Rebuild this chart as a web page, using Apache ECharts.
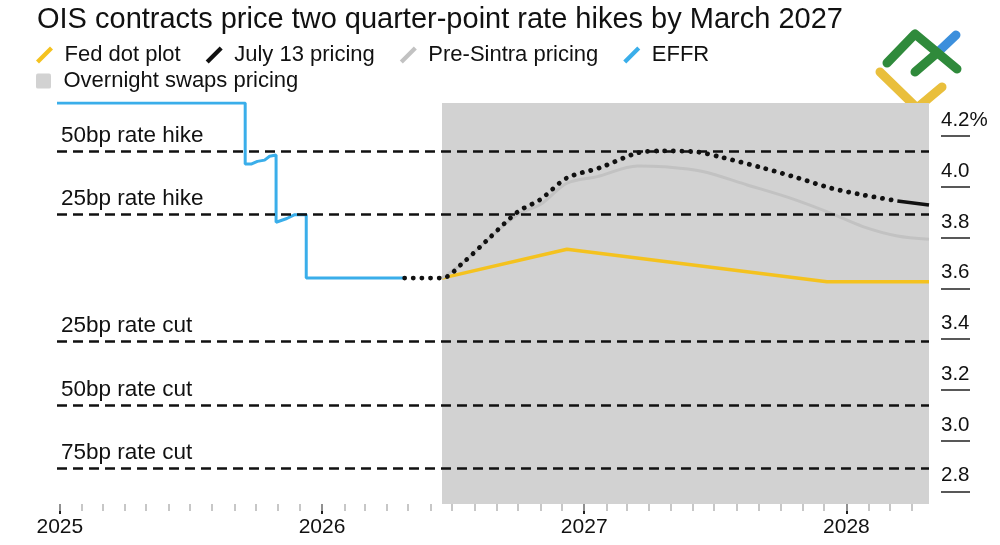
<!DOCTYPE html>
<html>
<head>
<meta charset="utf-8">
<script src="https://cdn.jsdelivr.net/npm/echarts@6/dist/echarts.min.js"></script>
<style>
html, body { margin: 0; padding: 0; background: #fff; }
#main { width: 1000px; height: 545px; }
</style>
</head>
<body>
<div id="main"></div>
<script>
// chart data

var effrDates = ['2024-12-28', '2025-09-16', '2025-09-16', '2025-09-25', '2025-10-03', '2025-10-13', '2025-10-20',
    '2025-10-29', '2025-10-29', '2025-11-03', '2025-11-13', '2025-11-24', '2025-12-10', '2025-12-10', '2026-04-26'];
var effrValues = [4.33, 4.33, 4.09, 4.09, 4.10, 4.105, 4.12, 4.125, 3.86, 3.865, 3.875, 3.89, 3.89, 3.64, 3.64];

var julyDates = ['2026-04-26', '2026-06-17', '2026-07-16', '2026-08-19', '2026-09-30', '2026-11-01', '2026-12-08',
    '2027-01-23', '2027-03-16', '2027-04-21', '2027-06-07', '2027-07-10', '2027-09-07', '2027-10-25', '2027-12-10',
    '2028-01-24', '2028-03-12'];
var julyValues = [3.64, 3.64, 3.70, 3.79, 3.90, 3.95, 4.035, 4.075, 4.133, 4.141, 4.137, 4.117, 4.074, 4.035, 3.995,
    3.968, 3.944];
var julySolidDates = ['2028-03-12', '2028-04-25'];
var julySolidValues = [3.944, 3.928];

var sintraDates = ['2026-06-17', '2026-07-16', '2026-08-19', '2026-09-30', '2026-11-01', '2026-12-08', '2027-01-19',
    '2027-03-16', '2027-04-21', '2027-06-15', '2027-08-16', '2027-10-15', '2027-12-10', '2028-01-24', '2028-03-12',
    '2028-04-25'];
var sintraValues = [3.64, 3.70, 3.79, 3.89, 3.93, 4.014, 4.04, 4.082, 4.079, 4.06, 4.007, 3.955, 3.896, 3.843, 3.806,
    3.793];

var dotDates = ['2026-06-17', '2026-12-08', '2027-12-05', '2028-04-25'];
var dotValues = [3.64, 3.754, 3.626, 3.626];

var swapsWindow = ['2026-06-17', '2028-04-25'];

var rateLineValues = [4.14, 3.89, 3.39, 3.14, 2.89];
var rateLineLabels = ['50bp rate hike', '25bp rate hike', '25bp rate cut', '50bp rate cut', '75bp rate cut'];

var yTicks = [2.8, 3.0, 3.2, 3.4, 3.6, 3.8, 4.0, 4.2];
var yearTicks = ['2025-01-01', '2026-01-01', '2027-01-01', '2028-01-01'];
var xRange = ['2024-12-28', '2028-04-25'];

var titleText = 'OIS contracts price two quarter-point rate hikes by March 2027';

// helpers
function toTime(s) {
    var p = s.split('-');
    return +new Date(+p[0], +p[1] - 1, +p[2]);
}
function zip(dates, values) {
    return dates.map(function (d, i) { return [toTime(d), values[i]]; });
}

// month ticks for the small marks along the x axis
var monthTicks = [];
for (var y = 2025; y <= 2028; y++) {
    for (var m = 0; m < 12; m++) {
        var t = +new Date(y, m, 1);
        if (t <= toTime(xRange[1])) monthTicks.push(t);
    }
}

var FONT = '"Liberation Sans", Arial, Helvetica, sans-serif';
var slashIcon = 'path://M0,14 L14,0 L17,3 L3,17 Z';
var squareIcon = 'path://M2,0 L14,0 Q16,0 16,2 L16,14 Q16,16 14,16 L2,16 Q0,16 0,14 L0,2 Q0,0 2,0 Z';

var chartDom = document.getElementById('main');
var myChart = echarts.init(chartDom);

var option = {
    animation: false,
    backgroundColor: '#fff',
    title: {
        text: titleText,
        left: 32,
        top: 0,
        textStyle: { fontFamily: FONT, fontSize: 29, fontWeight: 'normal', color: '#111' }
    },
    legend: [{
        data: [
            { name: 'Fed dot plot', icon: slashIcon },
            { name: 'July 13 pricing', icon: slashIcon },
            { name: 'Pre-Sintra pricing', icon: slashIcon },
            { name: 'EFFR', icon: slashIcon }
        ],
        left: 31,
        top: 39,
        itemWidth: 30,
        itemHeight: 17,
        itemGap: 25,
        selectedMode: false,
        itemStyle: { borderWidth: 0 },
        lineStyle: { type: 'solid' },
        textStyle: { fontFamily: FONT, fontSize: 22, color: '#111' }
    }, {
        data: [{ name: 'Overnight swaps pricing', icon: squareIcon }],
        left: 31,
        top: 65,
        itemWidth: 30,
        itemHeight: 15,
        selectedMode: false,
        itemStyle: { borderWidth: 0 },
        textStyle: { fontFamily: FONT, fontSize: 22, color: '#111' }
    }],
    grid: {
        left: 57,
        right: 71,
        top: 103,
        bottom: 41
    },
    xAxis: [{
        type: 'value',
        min: toTime(xRange[0]),
        max: toTime(xRange[1]),
        axisLine: { show: false },
        splitLine: { show: false },
        axisTick: {
            show: true,
            length: 10,
            customValues: yearTicks.map(toTime),
            lineStyle: { color: '#222', width: 2 }
        },
        axisLabel: {
            customValues: yearTicks.map(toTime),
            formatter: function (v) { return String(new Date(v).getFullYear()); },
            margin: 13,
            fontFamily: FONT,
            fontSize: 21,
            color: '#111'
        }
    }, {
        type: 'value',
        min: toTime(xRange[0]),
        max: toTime(xRange[1]),
        position: 'bottom',
        axisLine: { show: false },
        splitLine: { show: false },
        axisTick: {
            show: true,
            length: 7,
            customValues: monthTicks,
            lineStyle: { color: '#b5b5b5', width: 1.5 }
        },
        axisLabel: { show: false }
    }],
    yAxis: {
        type: 'value',
        position: 'right',
        min: 2.75,
        max: 4.33,
        offset: 12,
        axisLine: { show: false },
        splitLine: { show: false },
        axisTick: {
            show: true,
            length: 29,
            customValues: yTicks,
            lineStyle: { color: '#222', width: 1.5 }
        },
        axisLabel: {
            customValues: yTicks,
            formatter: function (v) { return v > 4.1 ? v.toFixed(1) + '%' : v.toFixed(1); },
            margin: 0,
            verticalAlign: 'bottom',
            padding: [0, 0, 5, 0],
            fontFamily: FONT,
            fontSize: 20.5,
            color: '#111'
        }
    },
    series: [{
        name: 'Overnight swaps pricing',
        type: 'line',
        data: [],
        z: 1,
        itemStyle: { color: '#d2d2d2' },
        markArea: {
            silent: true,
            itemStyle: { color: '#d2d2d2' },
            data: [[{ xAxis: toTime(swapsWindow[0]) }, { xAxis: toTime(swapsWindow[1]) }]]
        }
    }, {
        // dashed reference lines for hikes / cuts
        type: 'line',
        data: [],
        z: 2,
        markLine: {
            silent: true,
            symbol: 'none',
            lineStyle: { color: '#111', type: [10, 6], width: 2.5 },
            label: {
                position: 'insideStartTop',
                distance: 4,
                fontFamily: FONT,
                fontSize: 22.5,
                color: '#111',
                formatter: function (p) { return p.name; }
            },
            data: rateLineValues.map(function (v, i) {
                return { yAxis: v, name: rateLineLabels[i] };
            })
        }
    }, {
        name: 'Fed dot plot',
        type: 'line',
        z: 3,
        symbol: 'none',
        data: zip(dotDates, dotValues),
        itemStyle: { color: '#f4c21f' },
        lineStyle: { color: '#f4c21f', width: 3.5 }
    }, {
        name: 'Pre-Sintra pricing',
        type: 'line',
        z: 3,
        symbol: 'none',
        smooth: 0.3,
        data: zip(sintraDates, sintraValues),
        itemStyle: { color: '#c2c2c2' },
        lineStyle: { color: '#c2c2c2', width: 3 }
    }, {
        name: 'EFFR',
        type: 'line',
        z: 4,
        symbol: 'none',
        data: zip(effrDates, effrValues),
        itemStyle: { color: '#3aaeea' },
        lineStyle: { color: '#3aaeea', width: 3 }
    }, {
        name: 'July 13 pricing',
        type: 'line',
        z: 5,
        symbol: 'none',
        smooth: 0.3,
        data: zip(julyDates, julyValues),
        itemStyle: { color: '#111' },
        lineStyle: { color: '#111', width: 4.8, type: [0.1, 8.5], cap: 'round' }
    }, {
        name: 'July 13 pricing',
        type: 'line',
        z: 5,
        symbol: 'none',
        data: zip(julySolidDates, julySolidValues),
        itemStyle: { color: '#111' },
        lineStyle: { color: '#111', width: 3.5 }
    }],
    graphic: [{
        type: 'group',
        silent: true,
        children: [{
            type: 'polyline',
            shape: { points: [[880, 72], [917, 108], [942, 87]] },
            style: { stroke: '#e9bf3c', lineWidth: 9, lineCap: 'round', lineJoin: 'round', fill: null }
        }, {
            type: 'polyline',
            shape: { points: [[937, 53], [956, 35]] },
            style: { stroke: '#3c8fdc', lineWidth: 9, lineCap: 'round', fill: null }
        }, {
            type: 'polyline',
            shape: { points: [[915, 72], [937, 53]] },
            style: { stroke: '#2f8a3b', lineWidth: 9, lineCap: 'round', fill: null }
        }, {
            type: 'polyline',
            shape: { points: [[887, 63], [915, 34], [957, 69]] },
            style: { stroke: '#2f8a3b', lineWidth: 9, lineCap: 'round', lineJoin: 'round', fill: null }
        }]
    }]
};

myChart.setOption(option);
</script>
</body>
</html>
